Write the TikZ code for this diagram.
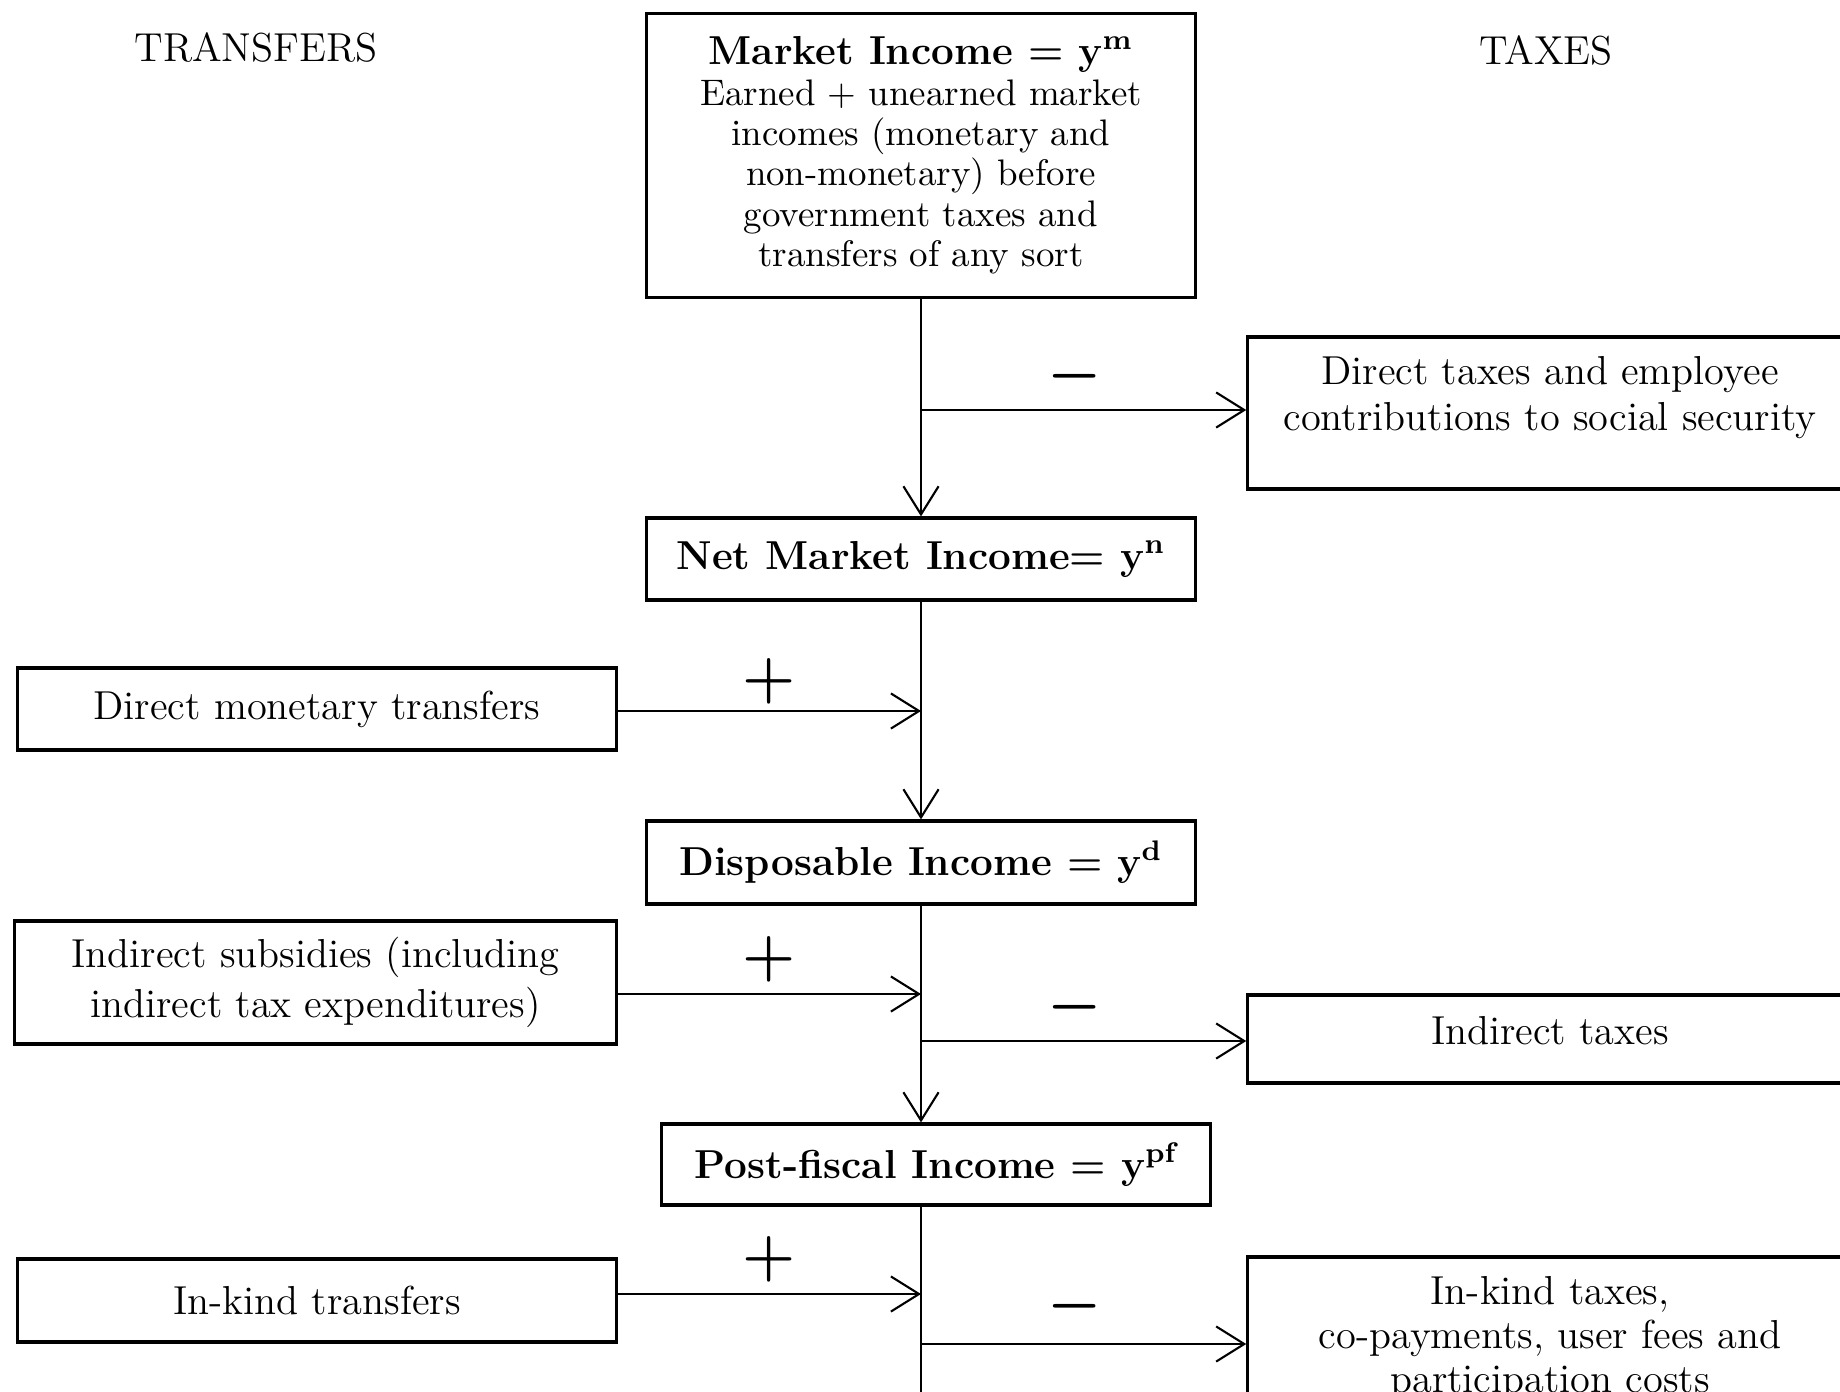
\documentclass[tikz,border=0pt]{standalone}
\usetikzlibrary{arrows.meta}
\begin{document}
\begin{tikzpicture}[x=0.01cm,y=-0.01cm,
  box/.style={draw, line width=0.9pt, inner sep=0pt, align=center, font=\fontsize{11.5}{13}\selectfont},
  title/.style={box, font=\fontsize{11.5}{13}\selectfont\bfseries},
  conn/.style={line width=0.6pt},
  arr/.style={conn, -{Straight Barb[length=8pt,width=10pt,line width=0.6pt]}},
  sign/.style={font=\fontsize{17}{17}\selectfont\boldmath, inner sep=0pt},
  head/.style={font=\fontsize{11.5}{13}\selectfont, inner sep=0pt}]
\useasboundingbox (0,0) rectangle (1840,1391);
\clip (0,0) rectangle (1840,1391);

% headings
\node[head] (trh) at (256,47) {TRANSFERS};
\node[head] (txh) at (1546,50) {TAXES};

% central column
\node[box, minimum width=5.48cm, minimum height=2.83cm, font=\fontsize{10.5}{11.5}\selectfont] (mkt) at (921,155.5)
  {{\fontsize{11.5}{12}\selectfont\bfseries Market Income = y\textsuperscript{m}}\\Earned + unearned market\\incomes (monetary and\\non-monetary) before\\government taxes and\\transfers of any sort};
\node[title, minimum width=5.48cm, minimum height=0.82cm] (net) at (921,559) {Net Market Income= y\textsuperscript{n}};
\node[title, minimum width=5.48cm, minimum height=0.83cm] (disp) at (921,862.5) {Disposable Income = y\textsuperscript{d}};
\node[title, minimum width=5.48cm, minimum height=0.81cm] (post) at (936,1164.5) {Post-fiscal Income = y\textsuperscript{pf}};

% transfers (left)
\node[box, minimum width=5.98cm, minimum height=0.82cm] (dmt) at (317,709) {Direct monetary transfers};
\node[box, minimum width=6.01cm, minimum height=1.23cm, font=\fontsize{11.5}{14}\selectfont] (isub) at (315.5,982.5) {Indirect subsidies (including\\indirect tax expenditures)};
\node[box, minimum width=5.98cm, minimum height=0.83cm] (ikt) at (317,1300.5) {In-kind transfers};

% taxes (right)
\node[box, minimum width=6.04cm, minimum height=1.52cm] (dtax) at (1550,413) {Direct taxes and employee\\contributions to social security\rule[-11pt]{0pt}{0pt}};
\node[box, minimum width=6.04cm, minimum height=0.88cm] (itax) at (1550,1039) {Indirect taxes\rule[-5pt]{0pt}{0pt}};
\node[box, minimum width=6.04cm, minimum height=1.63cm, font=\fontsize{11.5}{12.5}\selectfont] (iktax) at (1550,1338.5) {In-kind taxes,\\co-payments, user fees and\\participation costs};

% signs
\node[sign] (p1) at (769,681) {$+$};
\node[sign] (p2) at (769,959) {$+$};
\node[sign] (p3) at (769,1259) {$+$};
\node[sign] (m1) at (1075,376) {$-$};
\node[sign] (m2) at (1075,1007) {$-$};
\node[sign] (m3) at (1075,1306) {$-$};

% trunk points
\coordinate (b1) at (921,410);
\coordinate (b2) at (921,711);
\coordinate (b3) at (921,994);
\coordinate (b4) at (921,1041);
\coordinate (b5) at (921,1294);
\coordinate (b6) at (921,1344);
\coordinate (bend) at (921,1400);

% connectors
\draw[conn] (mkt.south) -- (b1);
\draw[arr] (b1) -- (net.north);
\draw[arr] (b1) -- (dtax.west |- b1);
\draw[conn] (net.south) -- (b2);
\draw[arr] (b2) -- (disp.north);
\draw[arr] (dmt.east |- b2) -- (b2);
\draw[conn] (disp.south) -- (b3);
\draw[conn] (b3) -- (b4);
\draw[arr] (b4) -- (b4 |- post.north);
\draw[arr] (isub.east |- b3) -- (b3);
\draw[arr] (b4) -- (itax.west |- b4);
\draw[conn] (b5 |- post.south) -- (b5);
\draw[conn] (b5) -- (b6);
\draw[conn] (b6) -- (bend);
\draw[arr] (ikt.east |- b5) -- (b5);
\draw[arr] (b6) -- (iktax.west |- b6);
\end{tikzpicture}
\end{document}
